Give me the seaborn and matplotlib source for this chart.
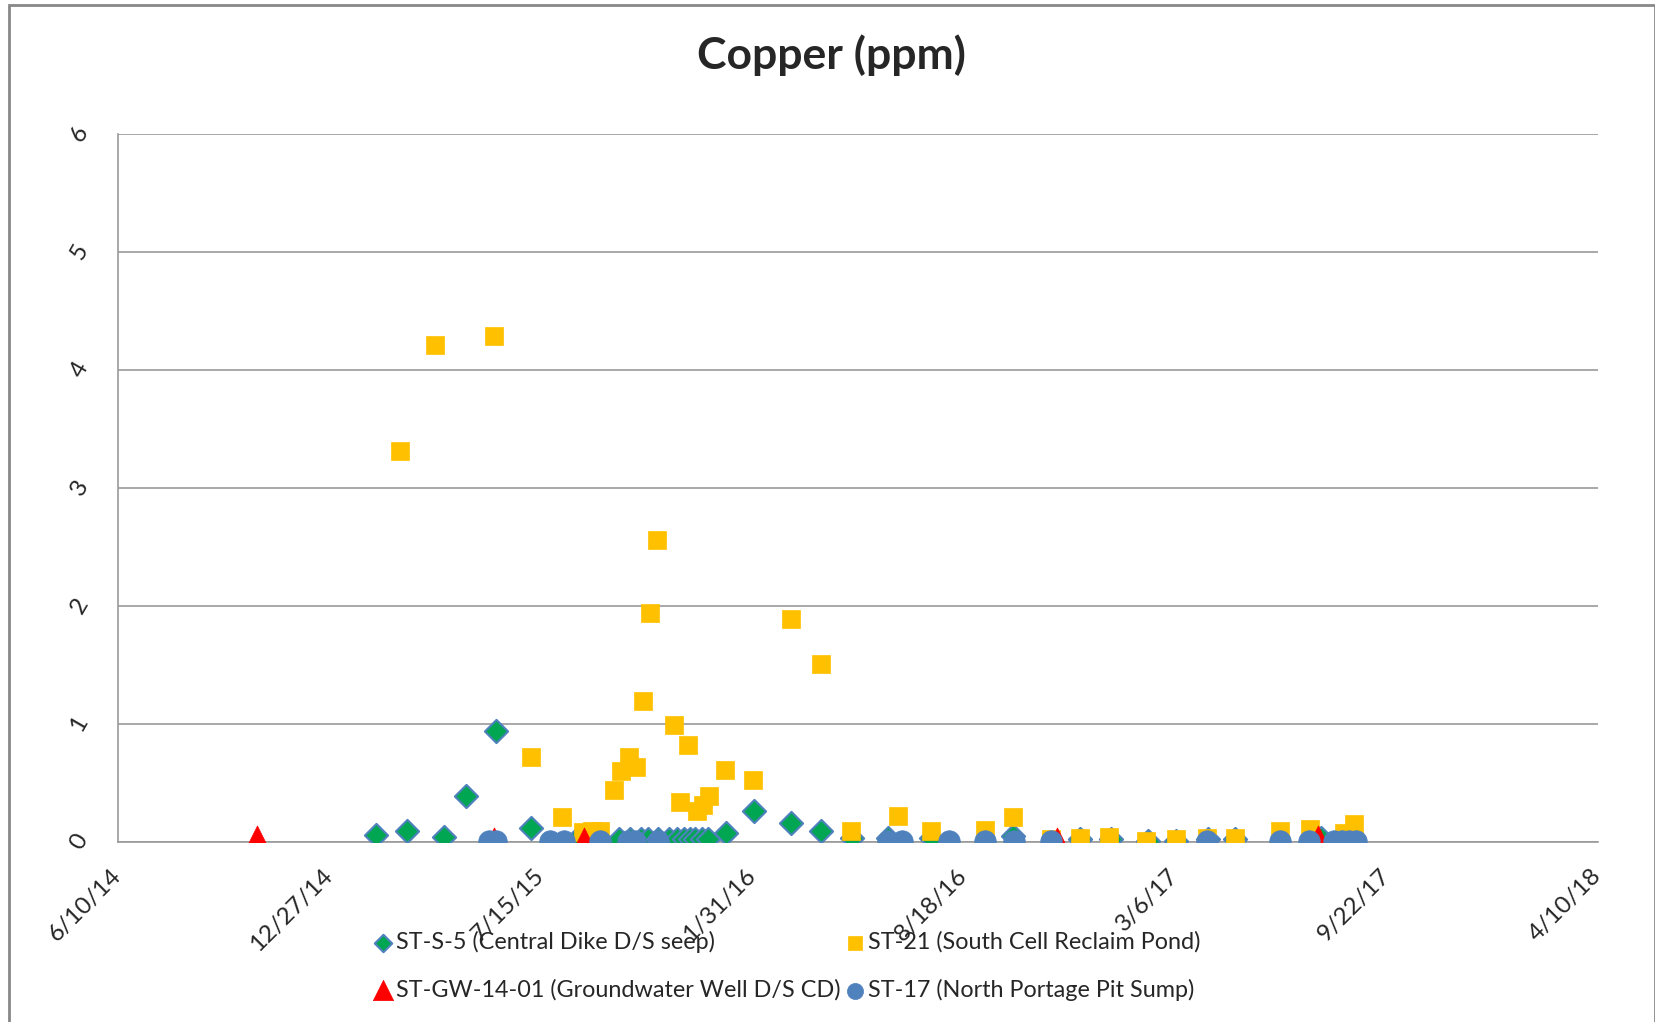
import pandas as pd
import matplotlib.pyplot as plt
import matplotlib.patches as mpatches
import seaborn as sns

# ST-S-5 (Central Dike D/S seep)
s5_dates = ['2015-02-09', '2015-03-10', '2015-04-14', '2015-05-05', '2015-06-02', '2015-07-06',
            '2015-08-18', '2015-09-27', '2015-10-07', '2015-10-18', '2015-10-24', '2015-11-03',
            '2015-11-13', '2015-11-21', '2015-11-27', '2015-12-03', '2015-12-08', '2015-12-14',
            '2015-12-20', '2016-01-06', '2016-02-02', '2016-03-08', '2016-04-05', '2016-05-04',
            '2016-06-07', '2016-07-18', '2016-10-04', '2016-12-06', '2017-01-04', '2017-02-08',
            '2017-03-07', '2017-04-06', '2017-05-02', '2017-07-22']
s5_vals = [0.06, 0.09, 0.04, 0.39, 0.94, 0.12,
           0.02, 0.02, 0.02, 0.02, 0.02, 0.02,
           0.02, 0.02, 0.02, 0.02, 0.02, 0.02,
           0.02, 0.07, 0.26, 0.155, 0.09, 0.03,
           0.03, 0.03, 0.05, 0.02, 0.02, 0.01,
           0.01, 0.02, 0.02, 0.03]

# ST-21 (South Cell Reclaim Pond)
st21_dates = ['2015-03-04', '2015-04-06', '2015-06-01', '2015-07-06', '2015-08-04', '2015-08-24',
              '2015-09-01', '2015-09-09', '2015-09-22', '2015-09-29', '2015-10-06', '2015-10-13',
              '2015-10-20', '2015-10-26', '2015-11-02', '2015-11-18', '2015-11-24', '2015-12-01',
              '2015-12-10', '2015-12-15', '2015-12-21', '2016-01-05', '2016-02-01', '2016-03-08',
              '2016-04-05', '2016-05-03', '2016-06-17', '2016-07-18', '2016-09-07', '2016-10-04',
              '2016-11-09', '2016-12-06', '2017-01-03', '2017-02-07', '2017-03-07', '2017-04-05',
              '2017-05-02', '2017-06-13', '2017-07-12', '2017-08-13', '2017-08-22']
st21_vals = [3.31, 4.21, 4.29, 0.72, 0.21, 0.08,
             0.09, 0.09, 0.44, 0.60, 0.72, 0.63,
             1.19, 1.94, 2.56, 0.99, 0.34, 0.82,
             0.26, 0.31, 0.39, 0.61, 0.52, 1.89,
             1.51, 0.09, 0.22, 0.09, 0.10, 0.21,
             0.02, 0.03, 0.04, 0.01, 0.02, 0.03,
             0.03, 0.09, 0.11, 0.07, 0.15]

# ST-GW-14-01 (Groundwater Well D/S CD)
gw_dates = ['2014-10-19', '2015-06-01', '2015-08-25', '2016-11-14', '2017-07-19']
gw_vals = [0.02, 0.01, 0.01, 0.01, 0.02]

# ST-17 (North Portage Pit Sump)
st17_dates = ['2015-05-27', '2015-06-02', '2015-07-24', '2015-08-06', '2015-09-09', '2015-10-05',
              '2015-10-12', '2015-11-03', '2016-06-07', '2016-06-21', '2016-08-04', '2016-09-07',
              '2016-10-05', '2016-11-09', '2017-04-05', '2017-06-13', '2017-07-11', '2017-08-03',
              '2017-08-11', '2017-08-18', '2017-08-24']
st17_vals = [0.005] * 21

xtick_labels = ['6/10/14', '12/27/14', '7/15/15', '1/31/16', '8/18/16', '3/6/17', '9/22/17', '4/10/18']
ytick_vals = [0, 1, 2, 3, 4, 5, 6]

sns.set_style('white')
plt.rcParams['font.family'] = ['Lato', 'DejaVu Sans']

fig = plt.figure(figsize=(16.56, 10.22), dpi=100)
ax = fig.add_axes([0.0714, 0.1764, 0.8934, 0.6925])

grey = '#999999'

sns.scatterplot(x=pd.to_datetime(s5_dates), y=s5_vals, marker='D', s=140, color='#00A651',
                edgecolor='#4F81BD', linewidth=1.5, label='ST-S-5 (Central Dike D/S seep)', ax=ax, zorder=3)
sns.scatterplot(x=pd.to_datetime(st21_dates), y=st21_vals, marker='s', s=160, color='#FFC000',
                edgecolor='#FFC000', linewidth=0.5, label='ST-21 (South Cell Reclaim Pond)', ax=ax, zorder=4)
sns.scatterplot(x=pd.to_datetime(gw_dates), y=gw_vals, marker='^', s=380, color='#FF0000',
                edgecolor='#FF0000', linewidth=0.5, label='ST-GW-14-01 (Groundwater Well D/S CD)', ax=ax, zorder=5)
sns.scatterplot(x=pd.to_datetime(st17_dates), y=st17_vals, marker='o', s=240, color='#4F81BD',
                edgecolor='#4F81BD', linewidth=0.5, label='ST-17 (North Portage Pit Sump)', ax=ax, zorder=6)

xticks = pd.to_datetime(xtick_labels, format='%m/%d/%y')
ax.set_xlim(xticks[0], xticks[-1])
ax.set_xticks(xticks)
ax.set_xticklabels(xtick_labels, rotation=45, ha='right', va='center', rotation_mode='anchor', fontsize=17.5)
ax.set_ylim(0, 6)
ax.set_yticks(ytick_vals)
ax.set_yticklabels([str(v) for v in ytick_vals], rotation=60, ha='center', va='center', fontsize=17.5)
ax.tick_params(axis='x', direction='out', length=6, width=1.2, color=grey, pad=16)
ax.tick_params(axis='y', direction='out', length=6, width=1.2, color=grey, pad=22)
ax.set_xlabel('')
ax.set_ylabel('')

ax.grid(axis='y', color=grey, linewidth=1.2)
ax.grid(axis='x', visible=False)
ax.set_axisbelow(True)
for side in ['top', 'right']:
    ax.spines[side].set_visible(False)
for side in ['left', 'bottom']:
    ax.spines[side].set_color(grey)
    ax.spines[side].set_linewidth(1.2)

fig.text(0.502, 0.946, 'Copper (ppm)', ha='center', va='center', fontsize=32, fontweight='bold')

handles, labels = ax.get_legend_handles_labels()
ax.get_legend().remove()
order = [0, 2, 1, 3]
fig.legend([handles[i] for i in order], [labels[i] for i in order], ncol=2, loc='center',
           bbox_to_anchor=(0.475, 0.055), frameon=False, fontsize=16.8, handletextpad=0.1,
           columnspacing=0.2, labelspacing=1.1, handlelength=0.9, markerscale=0.75)

fig.patches.append(mpatches.Rectangle((9 / 1656, -0.01), 1646 / 1656, 1.005, transform=fig.transFigure,
                                      fill=False, edgecolor='#888888', linewidth=2))

plt.savefig('out.png', dpi=100)
